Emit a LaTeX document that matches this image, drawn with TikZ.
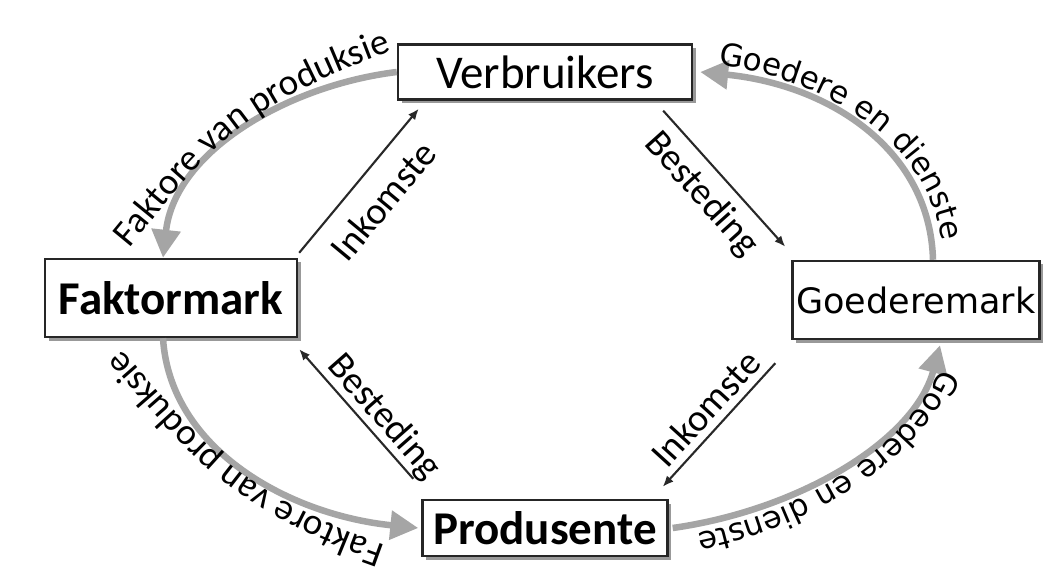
\documentclass[tikz,border=0pt]{standalone}
\usepackage{fontspec}
\setmainfont{Carlito}
\newfontfamily\dejavu{DejaVu Sans}
\usetikzlibrary{arrows.meta,shadows,calc,decorations.text}
\definecolor{arcgray}{RGB}{165,165,165}
\definecolor{lnk}{RGB}{40,40,40}
\begin{document}
\begin{tikzpicture}[x=1pt,y=-1pt,
  box/.style={draw=black!85, line width=2.4pt, fill=white, inner sep=0pt,
    drop shadow={shadow xshift=3.5pt, shadow yshift=-3.5pt, fill=black!40, opacity=1}},
  bigfont/.style={font=\fontsize{47}{50}\selectfont},
  boldfont/.style={font=\fontsize{47}{50}\selectfont\bfseries},
  flow/.style={draw=arcgray, line width=6.5pt, -{Triangle[length=28pt,width=28pt]}},
  money/.style={draw=lnk, line width=2.1pt, -{Latex[length=11pt,width=9pt]}},
  lbl/.style={font=\fontsize{38}{40}\selectfont, inner xsep=0pt, sloped}
]
\fill[white] (0,0) rectangle (1049,585);
\useasboundingbox (0,0) rectangle (1049,585);

% boxes
\node[box, bigfont, minimum width=294pt, minimum height=55pt] (verb) at (545,72) {Verbruikers};
\node[box, boldfont, minimum width=252pt, minimum height=78pt] (fak) at (171,298) {Faktormark};
\node[box, font=\dejavu\fontsize{35}{38}\selectfont, minimum width=247pt, minimum height=78pt] (goed) at (916,300) {Goederemark};
\node[box, boldfont, minimum width=245pt, minimum height=56pt] (prod) at (545,528) {Produsente};

% gray flows
\draw[flow] (verb.west) .. controls (290,85) and (175,150) .. ($(fak.north)+(-8,0)$);
\draw[flow] ($(goed.north)+(17,0)$) .. controls (930,150) and (830,85) .. ($(verb.east)+(7,0)$);
\draw[flow] ($(fak.south)+(-8,0)$) .. controls (170,450) and (290,515) .. ($(prod.west)+(-3,0)$);
\draw[flow] ($(prod.east)+(4,0)$) .. controls (800,510) and (915,440) .. ($(goed.south)+(24,5)$);

% flow labels
\path[decorate, decoration={text along path, text align=center,
  text={|\fontsize{37}{40}\selectfont|Faktore van produksie}}]
  (91.7,293.2) -- (130,247) .. controls (203,159) and (232,109) .. (390,52) -- (446.4,31.7);
\path[decorate, decoration={text along path, text align=center,
  text={|\dejavu\fontsize{31}{33}\selectfont|Goedere en dienste}}]
  (641,57.5) -- (701,63) .. controls (831,75) and (940,148) .. (943,258) -- (944.6,318);
\path[decorate, decoration={text along path, text align=center,
  text={|\fontsize{37}{40}\selectfont|Faktore van produksie}}]
  (441.6,565) -- (385,545) .. controls (232,491) and (203,441) .. (122,350) -- (82,305);
\path[decorate, decoration={text along path, text align=center,
  text={|\dejavu\fontsize{31}{33}\selectfont|Goedere en dienste}}]
  (964.6,283.8) -- (950,342) .. controls (925,442) and (801,520) .. (669,538) -- (609.5,546);

% money flows
\draw[money] ($(fak.north east)+(1,-5)$) -- node[lbl, pos=.5, anchor=north, inner ysep=17pt] {Inkomste} ($(verb.south west)+(22,8)$);
\draw[money] ($(verb.south east)+(-30,10)$) -- node[lbl, pos=.48, anchor=north, inner ysep=10pt] {Besteding} ($(goed.north west)+(-6,-13)$);
\draw[money] ($(prod.north west)+(-8,-20)$) -- node[lbl, pos=.38, anchor=south, inner ysep=1pt] {Besteding} ($(fak.south east)+(1,11)$);
\draw[money] ($(goed.south west)+(-16,23)$) -- node[lbl, pos=.48, anchor=south, inner ysep=7pt] {Inkomste} ($(prod.north east)+(-6,-12)$);
\end{tikzpicture}
\end{document}
